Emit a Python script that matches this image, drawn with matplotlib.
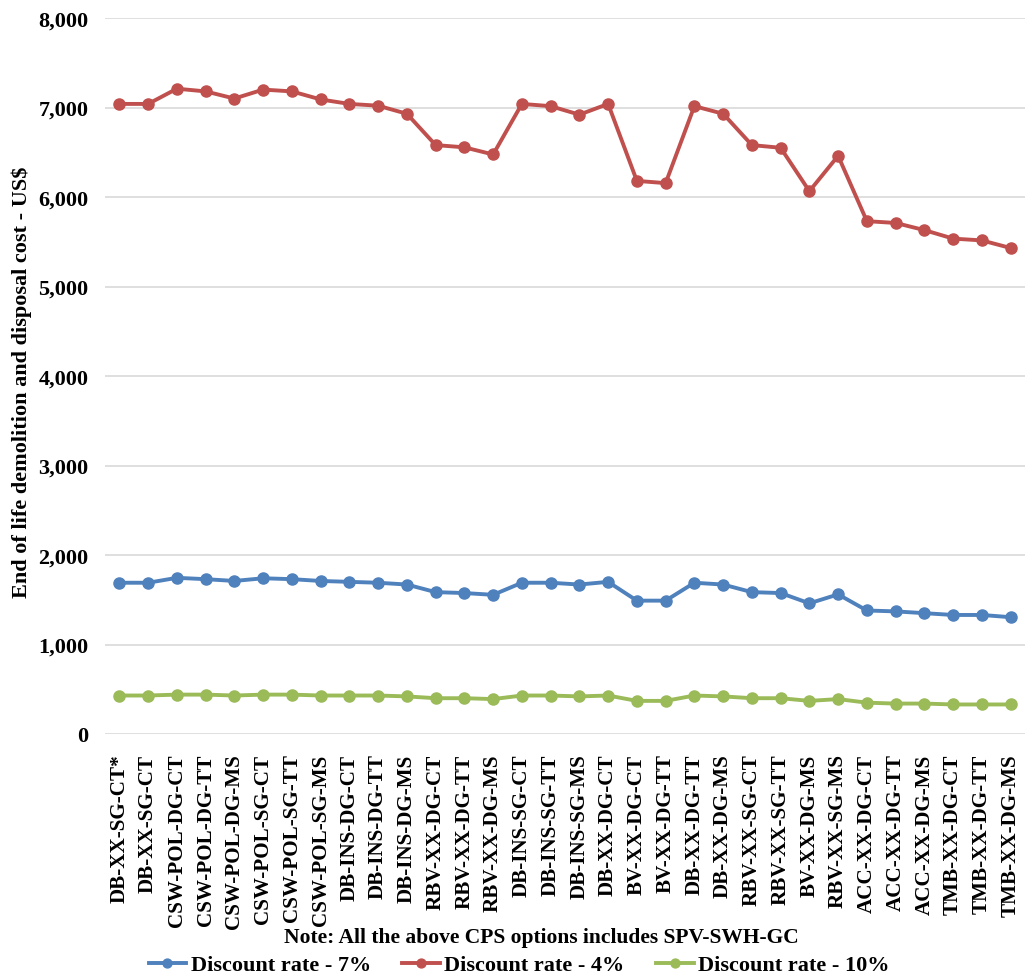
import matplotlib.pyplot as plt
from matplotlib.ticker import FuncFormatter

# CPS options (x axis)
options = [
    "DB-XX-SG-CT*", "DB-XX-SG-CT", "CSW-POL-DG-CT", "CSW-POL-DG-TT", "CSW-POL-DG-MS",
    "CSW-POL-SG-CT", "CSW-POL-SG-TT", "CSW-POL-SG-MS", "DB-INS-DG-CT", "DB-INS-DG-TT",
    "DB-INS-DG-MS", "RBV-XX-DG-CT", "RBV-XX-DG-TT", "RBV-XX-DG-MS", "DB-INS-SG-CT",
    "DB-INS-SG-TT", "DB-INS-SG-MS", "DB-XX-DG-CT", "BV-XX-DG-CT", "BV-XX-DG-TT",
    "DB-XX-DG-TT", "DB-XX-DG-MS", "RBV-XX-SG-CT", "RBV-XX-SG-TT", "BV-XX-DG-MS",
    "RBV-XX-SG-MS", "ACC-XX-DG-CT", "ACC-XX-DG-TT", "ACC-XX-DG-MS", "TMB-XX-DG-CT",
    "TMB-XX-DG-TT", "TMB-XX-DG-MS",
]

rate_7 = [1690, 1690, 1745, 1730, 1710, 1740, 1730, 1710, 1700, 1690,
          1670, 1585, 1575, 1555, 1690, 1690, 1670, 1700, 1490, 1490,
          1690, 1670, 1585, 1575, 1460, 1560, 1380, 1370, 1350, 1330,
          1330, 1305]

rate_4 = [7040, 7040, 7210, 7180, 7100, 7200, 7180, 7090, 7040, 7020,
          6930, 6580, 6555, 6475, 7040, 7015, 6920, 7040, 6180, 6155,
          7015, 6930, 6580, 6550, 6065, 6460, 5730, 5710, 5630, 5535,
          5515, 5430]

rate_10 = [430, 430, 440, 440, 430, 440, 440, 430, 430, 430,
           420, 400, 400, 390, 430, 430, 420, 430, 370, 370,
           430, 420, 400, 400, 370, 390, 350, 340, 340, 330,
           330, 330]

plt.rcParams['font.family'] = ['Liberation Serif', 'DejaVu Serif']
plt.rcParams['font.weight'] = 'bold'

fig = plt.figure(figsize=(10.25, 9.79), dpi=100)
ax = fig.add_axes([105 / 1025, 1 - 735 / 979, 920 / 1025, (735 - 19) / 979])

x = list(range(len(options)))
ax.plot(x, rate_7, color='#4F81BD', lw=2.8, marker='o', ms=8, label='Discount rate - 7%')
ax.plot(x, rate_4, color='#C0504D', lw=2.8, marker='o', ms=8, label='Discount rate - 4%')
ax.plot(x, rate_10, color='#9BBB59', lw=2.8, marker='o', ms=8, label='Discount rate - 10%')

ax.set_xlim(-0.5, len(options) - 0.5)
ax.set_ylim(0, 8000)
ax.set_yticks(range(0, 8001, 1000))
ax.yaxis.set_major_formatter(FuncFormatter(lambda v, p: f"{int(v):,}"))
ax.set_xticks(x)
ax.set_xticklabels(options, rotation=90, fontsize=15.2, fontweight='bold')
ax.tick_params(axis='y', labelsize=16, length=0, pad=12)
ax.tick_params(axis='x', length=0, pad=14)
ax.grid(axis='y', color='#D9D9D9', lw=1.2)
ax.set_axisbelow(True)
for s in ax.spines.values():
    s.set_visible(False)

fig.text(22 / 1025, 1 - 382 / 979, 'End of life demolition and disposal cost - US$',
         rotation=90, ha='center', va='center', fontsize=16, fontweight='bold')

fig.text(541 / 1025, 1 - 938 / 979, 'Note: All the above CPS options includes SPV-SWH-GC',
         ha='center', va='center', fontsize=15.5, fontweight='bold')
leg = fig.legend(loc='center', bbox_to_anchor=(519 / 1025, 1 - 966 / 979), ncol=3,
                 frameon=False, handlelength=1.7, columnspacing=1.4, markerscale=0.8,
                 handletextpad=0.2, borderaxespad=0, prop={'weight': 'bold', 'size': 16})

fig.savefig('out.png', dpi=100)
